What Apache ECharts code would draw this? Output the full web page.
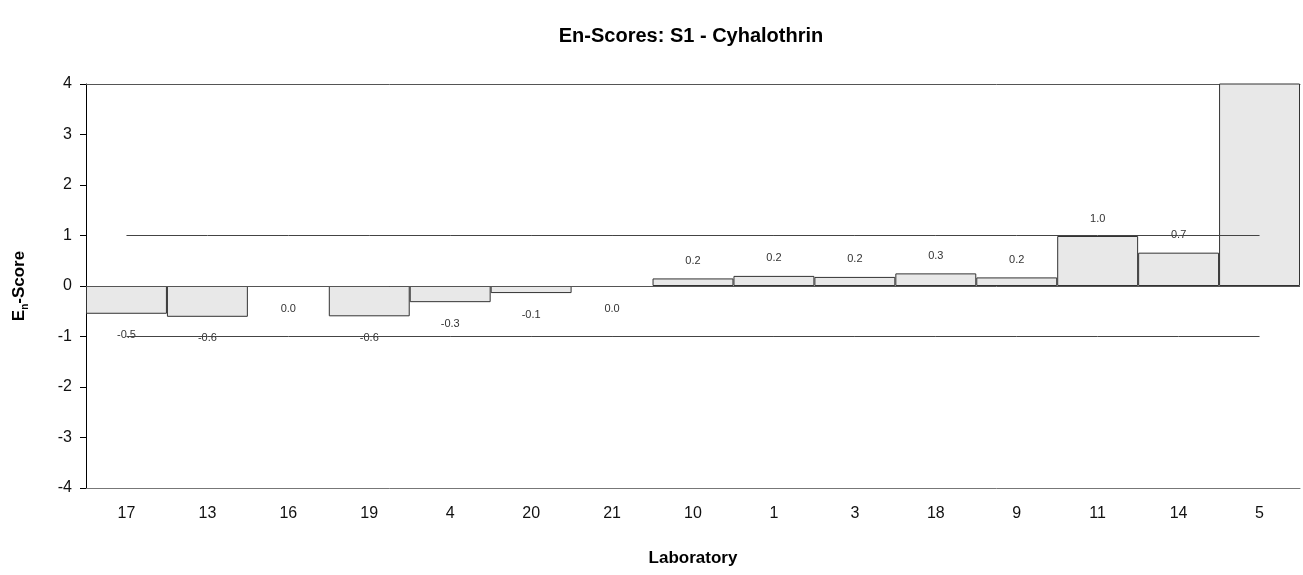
<!DOCTYPE html>
<html>
<head>
<meta charset="utf-8">
<script src="https://cdn.jsdelivr.net/npm/echarts@6/dist/echarts.min.js"></script>
<style>
  html, body { margin: 0; padding: 0; background: #fff; }
  #chart { width: 1303px; height: 575px; }
</style>
</head>
<body>
<div id="chart"></div>
<script>
// Laboratories in ranked order and their En-scores
const laboratories = ['17', '13', '16', '19', '4', '20', '21', '10', '1', '3', '18', '9', '11', '14', '5'];
const enScores = [-0.55, -0.61, -0.02, -0.6, -0.32, -0.14, -0.02, 0.15, 0.2, 0.18, 0.25, 0.17, 0.99, 0.66, 6.2];
// Printed labels (one decimal); the off-scale laboratory has none
const scoreLabels = ['-0.5', '-0.6', '0.0', '-0.6', '-0.3', '-0.1', '0.0', '0.2', '0.2', '0.2', '0.3', '0.2', '1.0', '0.7', ''];
// Acceptance limits |En| <= 1
const upperLimit = 1;
const lowerLimit = -1;

const FONT = '"Liberation Sans", Arial, sans-serif';

const barData = enScores.map((v, i) => ({
  value: v,
  label: {
    show: scoreLabels[i] !== '',
    position: v >= 0 ? 'top' : 'bottom',
    distance: v >= 0 ? 12 : 16,
    formatter: scoreLabels[i]
  }
}));

const chart = echarts.init(document.getElementById('chart'), null, { renderer: 'canvas' });
chart.setOption({
  backgroundColor: '#ffffff',
  animation: false,
  title: {
    text: 'En-Scores: S1 - Cyhalothrin',
    left: 686,
    top: 21,
    textAlign: 'center',
    textStyle: { fontFamily: FONT, fontSize: 20, fontWeight: 'bold', color: '#000' }
  },
  grid: { left: 86, right: 3, top: 84, bottom: 87, containLabel: false },
  xAxis: [
    {
      type: 'category',
      data: laboratories,
      position: 'bottom',
      axisLine: { onZero: false, lineStyle: { color: '#777', width: 1 } },
      axisTick: { show: false },
      axisLabel: { fontFamily: FONT, fontSize: 16, color: '#111', margin: 18 },
      name: 'Laboratory',
      nameLocation: 'middle',
      nameGap: 62,
      nameTextStyle: { fontFamily: FONT, fontSize: 17, fontWeight: 'bold', color: '#000' }
    },
    {
      type: 'category',
      data: laboratories,
      position: 'top',
      axisLine: { onZero: false, lineStyle: { color: '#555', width: 1 } },
      axisTick: { show: false },
      axisLabel: { show: false }
    }
  ],
  yAxis: {
    type: 'value',
    min: -4,
    max: 4,
    interval: 1,
    axisLine: { show: true, lineStyle: { color: '#000', width: 1 } },
    axisTick: { show: true, inside: false, length: 6, lineStyle: { color: '#000' } },
    axisLabel: { fontFamily: FONT, fontSize: 16, color: '#111', margin: 14 },
    splitLine: { show: false },
    name: '{m|E}{s|n}{m|-Score}',
    nameLocation: 'middle',
    nameGap: 56,
    nameRotate: 90,
    nameTextStyle: {
      rich: {
        m: { fontFamily: FONT, fontSize: 17, fontWeight: 'bold', color: '#000', lineHeight: 22 },
        s: { fontFamily: FONT, fontSize: 10, fontWeight: 'bold', color: '#000', lineHeight: 22, verticalAlign: 'bottom', padding: [9, 0, 0, 0] }
      }
    }
  },
  series: [
    {
      type: 'bar',
      data: barData,
      xAxisIndex: 0,
      barWidth: '100%',
      barCategoryGap: 0,
      clip: true,
      itemStyle: { color: '#e8e8e8', borderColor: '#333', borderWidth: 1 },
      label: { fontFamily: FONT, fontSize: 11, color: '#333' },
      markLine: {
        silent: true,
        symbol: 'none',
        label: { show: false },
        lineStyle: { color: '#555', width: 1, type: 'solid' },
        data: [{ yAxis: 0 }]
      },
      z: 2
    },
    {
      type: 'line',
      data: laboratories.map(() => upperLimit),
      xAxisIndex: 0,
      symbol: 'none',
      lineStyle: { color: '#444', width: 1 },
      z: 3
    },
    {
      type: 'line',
      data: laboratories.map(() => lowerLimit),
      xAxisIndex: 0,
      symbol: 'none',
      lineStyle: { color: '#444', width: 1 },
      z: 3
    }
  ]
});
</script>
</body>
</html>
